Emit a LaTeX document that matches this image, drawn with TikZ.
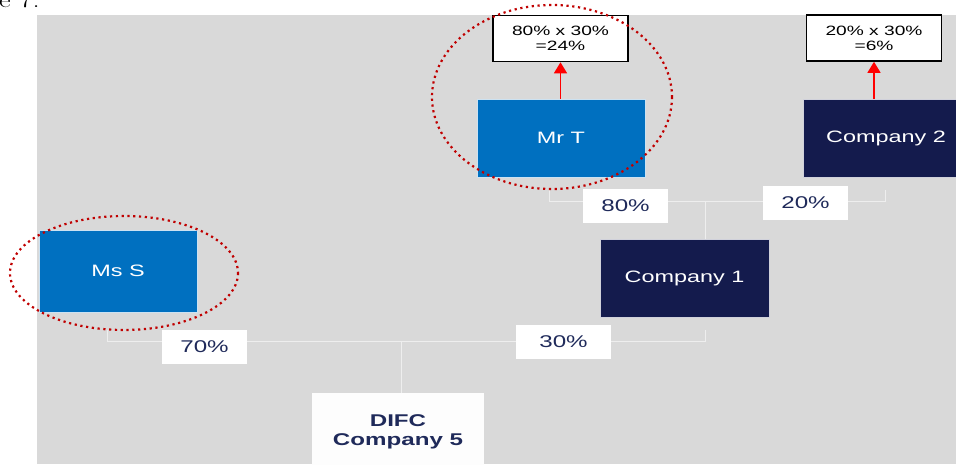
\documentclass[tikz,border=0pt]{standalone}
\usepackage{fontspec}
\setsansfont{Liberation Sans}
\newfontfamily\widesans[FakeStretch=1.42]{Liberation Sans}
\newfontfamily\wideserif[FakeStretch=1.3]{Latin Modern Roman}
\usetikzlibrary{arrows.meta}
\definecolor{panelgray}{HTML}{D9D9D9}
\definecolor{personblue}{HTML}{0070C0}
\definecolor{companynavy}{HTML}{141B4D}
\definecolor{textnavy}{HTML}{1F2A5A}
\definecolor{linkgray}{HTML}{EEEEEE}
\definecolor{dotred}{HTML}{C00000}
\tikzset{
  holder/.style={inner sep=0pt, text=white, font=\widesans\fontsize{16.5}{19}\selectfont},
  person/.style={holder, fill=personblue, draw=white!80!personblue, line width=0.6pt},
  company/.style={holder, fill=companynavy, draw=white!80!companynavy, line width=0.6pt},
  share/.style={fill=white, inner sep=0pt, minimum width=85pt, minimum height=34pt,
    text=textnavy, font=\widesans\fontsize{17}{20}\selectfont},
  calc/.style={fill=white, draw=black, line width=1.6pt, inner sep=0pt, align=center,
    minimum width=135pt, minimum height=46pt, font=\widesans\fontsize{13.5}{15}\selectfont},
  link/.style={draw=linkgray, line width=1pt},
  ring/.style={draw=dotred, line width=2.2pt, dash pattern=on 2.2pt off 3.6pt},
  uparrow/.style={draw=red, line width=1.3pt, -{Triangle[width=13pt,length=11pt]}},
}

\begin{document}
\begin{tikzpicture}[x=1pt, y=-1pt]
\useasboundingbox (0,0) rectangle (956,464);
\fill [panelgray] (37,15) rectangle (956,464);
\node [anchor=base west, inner sep=0pt, font=\wideserif\fontsize{22}{24}\selectfont] (fig) at (-1,7) {e 7.};

% owners and companies
\node [person, minimum width=168pt, minimum height=78pt] (mrT) at (561,138) {Mr T};
\node [company, minimum width=166pt, minimum height=78pt] (co2) at (886,138) {Company 2};
\node [company, minimum width=169pt, minimum height=78pt] (co1) at (684.5,278) {Company 1};
\node [person, minimum width=158pt, minimum height=82pt] (msS) at (118,271) {Ms S};
\node [holder, fill=white!95!panelgray, text=textnavy, font=\widesans\bfseries\fontsize{17}{19}\selectfont,
  align=center, minimum width=172pt, minimum height=78pt] (difc) at (398,432) {DIFC\\Company 5};

% junctions
\coordinate (topL) at (549,190);
\coordinate (topR) at (885,190);
\coordinate (topM) at (705,201);
\coordinate (botL) at (107,330);
\coordinate (botR) at (705,330);
\coordinate (botM) at (401,341);

\draw [link] (topL) -- (topL |- topM) -- (topR |- topM) -- (topR);
\draw [link] (topM) -- (topM |- co1.north);
\draw [link] (botL) -- (botL |- botM) -- (botR |- botM) -- (botR);
\draw [link] (botM) -- (botM |- difc.north);

% shares
\node [share] (s80) at (625.5,205.5) {80\%};
\node [share] (s20) at (805.5,203) {20\%};
\node [share] (s70) at (204.5,347) {70\%};
\node [share, minimum width=95pt] (s30) at (563.5,342) {30\%};

% indirect holdings
\node [calc] (c24) at (560.5,38.5) {80\% x 30\%\\=24\%};
\node [calc] (c6) at (874,38) {20\% x 30\%\\=6\%};
\draw [uparrow] (mrT.north -| c24) -- (c24.south);
\draw [uparrow] (co2.north -| c6) -- (c6.south);

\draw [ring] (552,97) ellipse [x radius=120, y radius=92];
\draw [ring] (124,273) ellipse [x radius=114, y radius=57];
\end{tikzpicture}
\end{document}
